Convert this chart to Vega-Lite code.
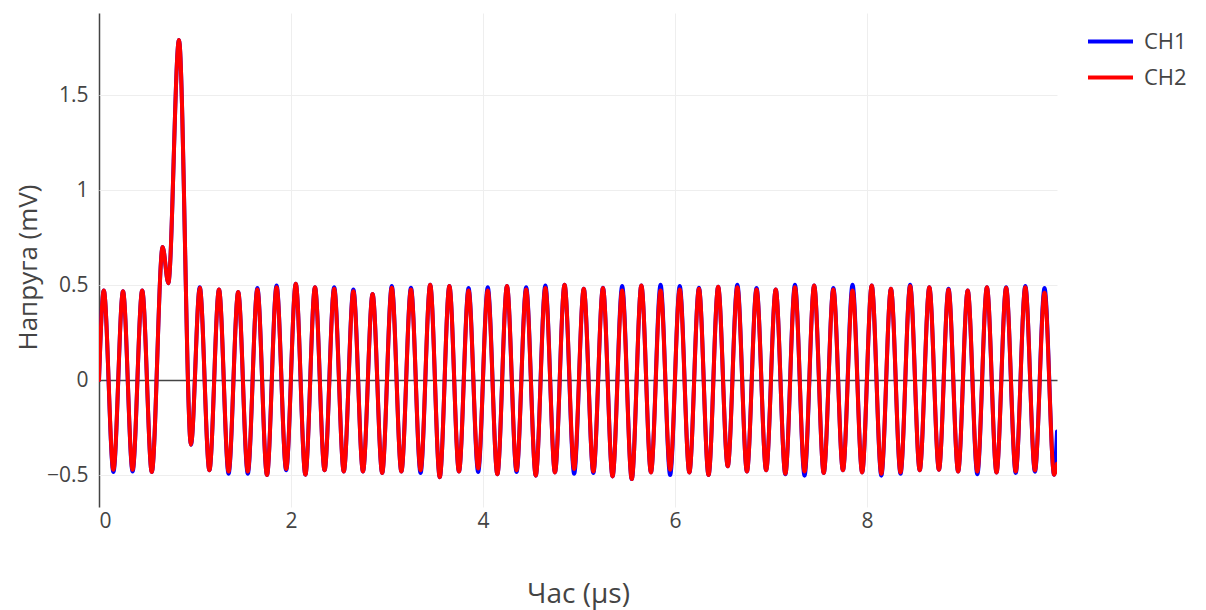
{
  "$schema": "https://vega.github.io/schema/vega-lite/v6.json",
  "width": 958,
  "height": 494,
  "autosize": {"type": "none"},
  "padding": {"left": 99, "top": 13, "right": 149, "bottom": 103},
  "background": "white",
  "config": {"view": {"stroke": null}, "font": "Open Sans"},
  "data": {"values": [
    {"t": 0, "CH1": 0, "CH2": 0},
    {"t": 0.05, "CH1": 0.472, "CH2": 0.472},
    {"t": 0.15, "CH1": -0.484, "CH2": -0.472},
    {"t": 0.25, "CH1": 0.467, "CH2": 0.467},
    {"t": 0.35, "CH1": -0.481, "CH2": -0.472},
    {"t": 0.45, "CH1": 0.472, "CH2": 0.472},
    {"t": 0.55, "CH1": -0.484, "CH2": -0.484},
    {"t": 0.663, "CH1": 0.70, "CH2": 0.70},
    {"t": 0.722, "CH1": 0.51, "CH2": 0.51},
    {"t": 0.833, "CH1": 1.79, "CH2": 1.79},
    {"t": 0.958, "CH1": -0.34, "CH2": -0.34},
    {"t": 1.05, "CH1": 0.489, "CH2": 0.486},
    {"t": 1.15, "CH1": -0.475, "CH2": -0.475},
    {"t": 1.25, "CH1": 0.477, "CH2": 0.477},
    {"t": 1.35, "CH1": -0.493, "CH2": -0.481},
    {"t": 1.45, "CH1": 0.463, "CH2": 0.463},
    {"t": 1.55, "CH1": -0.493, "CH2": -0.481},
    {"t": 1.65, "CH1": 0.484, "CH2": 0.477},
    {"t": 1.75, "CH1": -0.500, "CH2": -0.500},
    {"t": 1.85, "CH1": 0.498, "CH2": 0.489},
    {"t": 1.95, "CH1": -0.475, "CH2": -0.468},
    {"t": 2.05, "CH1": 0.507, "CH2": 0.507},
    {"t": 2.15, "CH1": -0.498, "CH2": -0.498},
    {"t": 2.25, "CH1": 0.489, "CH2": 0.489},
    {"t": 2.35, "CH1": -0.475, "CH2": -0.475},
    {"t": 2.45, "CH1": 0.489, "CH2": 0.481},
    {"t": 2.55, "CH1": -0.481, "CH2": -0.481},
    {"t": 2.65, "CH1": 0.477, "CH2": 0.467},
    {"t": 2.75, "CH1": -0.481, "CH2": -0.481},
    {"t": 2.85, "CH1": 0.453, "CH2": 0.453},
    {"t": 2.95, "CH1": -0.489, "CH2": -0.489},
    {"t": 3.05, "CH1": 0.495, "CH2": 0.486},
    {"t": 3.15, "CH1": -0.481, "CH2": -0.481},
    {"t": 3.25, "CH1": 0.486, "CH2": 0.477},
    {"t": 3.35, "CH1": -0.489, "CH2": -0.475},
    {"t": 3.45, "CH1": 0.502, "CH2": 0.502},
    {"t": 3.55, "CH1": -0.511, "CH2": -0.511},
    {"t": 3.65, "CH1": 0.495, "CH2": 0.495},
    {"t": 3.75, "CH1": -0.481, "CH2": -0.481},
    {"t": 3.85, "CH1": 0.484, "CH2": 0.472},
    {"t": 3.95, "CH1": -0.484, "CH2": -0.465},
    {"t": 4.05, "CH1": 0.489, "CH2": 0.472},
    {"t": 4.15, "CH1": -0.496, "CH2": -0.496},
    {"t": 4.25, "CH1": 0.495, "CH2": 0.495},
    {"t": 4.35, "CH1": -0.484, "CH2": -0.475},
    {"t": 4.45, "CH1": 0.489, "CH2": 0.477},
    {"t": 4.55, "CH1": -0.503, "CH2": -0.503},
    {"t": 4.65, "CH1": 0.498, "CH2": 0.484},
    {"t": 4.75, "CH1": -0.486, "CH2": -0.486},
    {"t": 4.85, "CH1": 0.502, "CH2": 0.502},
    {"t": 4.95, "CH1": -0.493, "CH2": -0.468},
    {"t": 5.05, "CH1": 0.481, "CH2": 0.481},
    {"t": 5.15, "CH1": -0.489, "CH2": -0.481},
    {"t": 5.25, "CH1": 0.486, "CH2": 0.484},
    {"t": 5.35, "CH1": -0.507, "CH2": -0.507},
    {"t": 5.45, "CH1": 0.495, "CH2": 0.472},
    {"t": 5.55, "CH1": -0.521, "CH2": -0.521},
    {"t": 5.65, "CH1": 0.498, "CH2": 0.498},
    {"t": 5.75, "CH1": -0.486, "CH2": -0.486},
    {"t": 5.85, "CH1": 0.502, "CH2": 0.472},
    {"t": 5.95, "CH1": -0.500, "CH2": -0.472},
    {"t": 6.05, "CH1": 0.495, "CH2": 0.477},
    {"t": 6.15, "CH1": -0.486, "CH2": -0.486},
    {"t": 6.25, "CH1": 0.486, "CH2": 0.481},
    {"t": 6.35, "CH1": -0.500, "CH2": -0.500},
    {"t": 6.45, "CH1": 0.491, "CH2": 0.491},
    {"t": 6.55, "CH1": -0.454, "CH2": -0.454},
    {"t": 6.65, "CH1": 0.502, "CH2": 0.489},
    {"t": 6.75, "CH1": -0.481, "CH2": -0.481},
    {"t": 6.85, "CH1": 0.484, "CH2": 0.477},
    {"t": 6.95, "CH1": -0.475, "CH2": -0.475},
    {"t": 7.05, "CH1": 0.477, "CH2": 0.477},
    {"t": 7.15, "CH1": -0.496, "CH2": -0.493},
    {"t": 7.25, "CH1": 0.502, "CH2": 0.489},
    {"t": 7.35, "CH1": -0.503, "CH2": -0.481},
    {"t": 7.45, "CH1": 0.498, "CH2": 0.498},
    {"t": 7.55, "CH1": -0.489, "CH2": -0.489},
    {"t": 7.65, "CH1": 0.484, "CH2": 0.477},
    {"t": 7.75, "CH1": -0.475, "CH2": -0.475},
    {"t": 7.85, "CH1": 0.502, "CH2": 0.472},
    {"t": 7.95, "CH1": -0.486, "CH2": -0.486},
    {"t": 8.05, "CH1": 0.498, "CH2": 0.498},
    {"t": 8.15, "CH1": -0.503, "CH2": -0.493},
    {"t": 8.25, "CH1": 0.481, "CH2": 0.481},
    {"t": 8.35, "CH1": -0.493, "CH2": -0.486},
    {"t": 8.45, "CH1": 0.502, "CH2": 0.495},
    {"t": 8.55, "CH1": -0.475, "CH2": -0.475},
    {"t": 8.65, "CH1": 0.489, "CH2": 0.489},
    {"t": 8.75, "CH1": -0.472, "CH2": -0.472},
    {"t": 8.85, "CH1": 0.481, "CH2": 0.477},
    {"t": 8.95, "CH1": -0.481, "CH2": -0.481},
    {"t": 9.05, "CH1": 0.472, "CH2": 0.472},
    {"t": 9.15, "CH1": -0.496, "CH2": -0.481},
    {"t": 9.25, "CH1": 0.489, "CH2": 0.489},
    {"t": 9.35, "CH1": -0.486, "CH2": -0.486},
    {"t": 9.45, "CH1": 0.489, "CH2": 0.486},
    {"t": 9.55, "CH1": -0.489, "CH2": -0.481},
    {"t": 9.65, "CH1": 0.495, "CH2": 0.489},
    {"t": 9.75, "CH1": -0.482, "CH2": -0.475},
    {"t": 9.85, "CH1": 0.484, "CH2": 0.460},
    {"t": 9.95, "CH1": -0.498, "CH2": -0.498},
    {"t": 9.98, "CH1": -0.27, "CH2": -0.44}
  ]},
  "transform": [{"fold": ["CH1", "CH2"], "as": ["ch", "v"]}],
  "mark": {"type": "line", "interpolate": "monotone", "strokeWidth": 4, "strokeJoin": "round", "strokeCap": "round", "clip": true},
  "encoding": {
    "x": {
      "field": "t", "type": "quantitative", "title": "Час (µs)",
      "scale": {"domain": [0, 9.98], "nice": false, "zero": false},
      "axis": {
        "values": [0, 2, 4, 6, 8], "format": "~g", "domain": false, "ticks": false,
        "labelFontSize": 21, "labelColor": "#444", "labelPadding": 3, "labelFont": "Open Sans",
        "grid": true,
        "gridColor": {"condition": {"test": "datum.value === 0", "value": "#444"}, "value": "#eeeeee"},
        "gridWidth": {"condition": {"test": "datum.value === 0", "value": 1.5}, "value": 1},
        "titleFontSize": 28, "titleColor": "#444", "titleFontWeight": "normal", "titleFont": "Open Sans", "titlePadding": 49
      }
    },
    "y": {
      "field": "v", "type": "quantitative", "title": "Напруга (mV)",
      "scale": {"domain": [-0.668, 1.932], "nice": false, "zero": false},
      "axis": {
        "values": [-0.5, 0, 0.5, 1, 1.5], "format": "~g", "domain": false, "ticks": false,
        "labelFontSize": 21, "labelColor": "#444", "labelPadding": 11, "labelFont": "Open Sans",
        "grid": true,
        "gridColor": {"condition": {"test": "datum.value === 0", "value": "#444"}, "value": "#eeeeee"},
        "gridWidth": {"condition": {"test": "datum.value === 0", "value": 1.5}, "value": 1},
        "titleFontSize": 26, "titleColor": "#444", "titleFontWeight": "normal", "titleFont": "Open Sans", "titlePadding": 5, "titleY": 254
      }
    },
    "color": {
      "field": "ch", "type": "nominal",
      "scale": {"domain": ["CH1", "CH2"], "range": ["#0000ff", "#ff0000"]},
      "legend": {
        "orient": "none", "legendX": 987, "legendY": 11, "title": null, "padding": 0,
        "symbolType": "stroke", "symbolSize": 2025, "symbolStrokeWidth": 4,
        "clipHeight": 35, "rowPadding": 1, "labelOffset": 9,
        "labelFontSize": 22, "labelColor": "#444", "labelFont": "Open Sans"
      }
    }
  }
}
